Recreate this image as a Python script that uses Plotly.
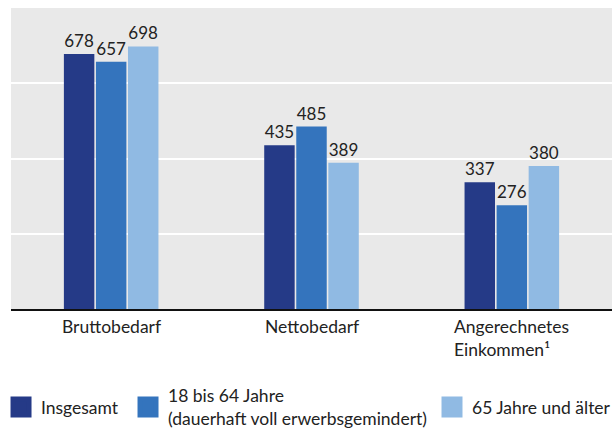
import plotly.graph_objects as go

categories = ["Bruttobedarf", "Nettobedarf", "Angerechnetes<br>Einkommen¹"]
series_names = ["Insgesamt", "18 bis 64 Jahre<br>(dauerhaft voll erwerbsgemindert)", "65 Jahre und älter"]
insgesamt = [678, 435, 337]
jahre_18_64 = [657, 485, 276]
jahre_65 = [698, 389, 380]
colors = ["#253a87", "#3474bd", "#90bae3"]

FONT = "Lato, 'Noto Sans', sans-serif"
series_values = [insgesamt, jahre_18_64, jahre_65]
keys = ["a", "b", "c"]
legend_ids = ["legend", "legend2", "legend3"]
legend_x = [-0.0166, 0.1947, 0.7005]

fig = go.Figure()
for vals, col in zip(series_values, colors):
    fig.add_trace(go.Bar(
        x=keys, y=vals, marker=dict(color=col, line=dict(width=0)),
        text=[str(v) for v in vals], textposition="outside",
        textfont=dict(size=17, color="#222222", family=FONT),
        cliponaxis=False, showlegend=False,
    ))
for name, col, lid in zip(series_names, colors, legend_ids):
    fig.add_trace(go.Scatter(
        x=[None], y=[None], mode="markers", name=name, legend=lid,
        marker=dict(symbol="square", size=16, color=col, line=dict(width=5, color=col)),
    ))

for k, cat in zip(keys, categories):
    fig.add_annotation(x=k, xref="x", y=0, yref="paper", yanchor="top", yshift=-5,
                       text=cat, showarrow=False, align="left",
                       font=dict(size=17.5, color="#222222", family=FONT))

legend_common = dict(orientation="h", xanchor="left", y=-0.326, yanchor="middle",
                     font=dict(size=17.5, family=FONT, color="#222222"), valign="middle",
                     itemclick=False, bgcolor="rgba(0,0,0,0)")

fig.update_layout(
    width=612, height=428,
    margin=dict(l=11, r=0, t=8, b=119, autoexpand=False),
    paper_bgcolor="white", plot_bgcolor="#e9e9e9",
    barmode="group", bargap=0.52, bargroupgap=0.05,
    font=dict(family=FONT, size=17, color="#222222"),
    showlegend=True,
    legend=dict(x=legend_x[0], **legend_common),
    legend2=dict(x=legend_x[1], **legend_common),
    legend3=dict(x=legend_x[2], **legend_common),
    xaxis=dict(showticklabels=False, showgrid=False, showline=True, linecolor="#111111",
               linewidth=2, ticks="", zeroline=False),
    yaxis=dict(range=[0, 800], dtick=200, showticklabels=False, showgrid=True,
               gridcolor="white", gridwidth=2, zeroline=False, ticks=""),
)
fig.write_html("out.html")
